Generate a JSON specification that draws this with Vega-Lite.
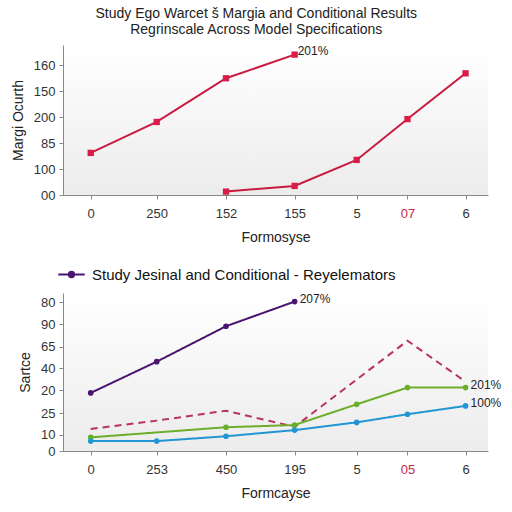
{
  "$schema": "https://vega.github.io/schema/vega-lite/v6.json",
  "padding": {"left": 11, "top": 6, "right": 6, "bottom": 4},
  "background": "white",
  "title": {
    "text": ["Study Ego Warcet š Margia and Conditional Results", "Regrinscale Across Model Specifications"],
    "anchor": "middle",
    "fontSize": 14,
    "fontWeight": "normal",
    "color": "#222",
    "lineHeight": 16,
    "offset": 8
  },
  "datasets": {
    "top": [
      {"series": "A", "x": 0, "y": 1.62},
      {"series": "A", "x": 1, "y": 2.81},
      {"series": "A", "x": 2.05, "y": 4.49},
      {"series": "A", "x": 3.09, "y": 5.4, "label": "201%"},
      {"series": "B", "x": 2.05, "y": 0.13},
      {"series": "B", "x": 3.09, "y": 0.35},
      {"series": "B", "x": 4.03, "y": 1.35},
      {"series": "B", "x": 4.8, "y": 2.92},
      {"series": "B", "x": 5.68, "y": 4.68}
    ],
    "bottom": [
      {"series": "Study Jesinal and Conditional - Reyelemators", "x": 0, "y": 2.64},
      {"series": "Study Jesinal and Conditional - Reyelemators", "x": 1, "y": 4.06},
      {"series": "Study Jesinal and Conditional - Reyelemators", "x": 2.05, "y": 5.67},
      {"series": "Study Jesinal and Conditional - Reyelemators", "x": 3.09, "y": 6.79, "label": "207%"},
      {"series": "Dashed", "x": 0, "y": 1.0},
      {"series": "Dashed", "x": 1, "y": 1.38},
      {"series": "Dashed", "x": 2.05, "y": 1.83},
      {"series": "Dashed", "x": 3.09, "y": 1.1},
      {"series": "Dashed", "x": 4.8, "y": 5.01},
      {"series": "Dashed", "x": 5.68, "y": 3.15},
      {"series": "Green", "x": 0, "y": 0.62},
      {"series": "Green", "x": 2.05, "y": 1.08},
      {"series": "Green", "x": 3.09, "y": 1.18},
      {"series": "Green", "x": 4.03, "y": 2.12},
      {"series": "Green", "x": 4.8, "y": 2.88},
      {"series": "Green", "x": 5.68, "y": 2.88, "label": "201%"},
      {"series": "Blue", "x": 0, "y": 0.45},
      {"series": "Blue", "x": 1, "y": 0.45},
      {"series": "Blue", "x": 2.05, "y": 0.67},
      {"series": "Blue", "x": 3.09, "y": 0.95},
      {"series": "Blue", "x": 4.03, "y": 1.3},
      {"series": "Blue", "x": 4.8, "y": 1.67},
      {"series": "Blue", "x": 5.68, "y": 2.05, "label": "100%"}
    ]
  },
  "spacing": 16,
  "resolve": {"legend": {"color": "independent"}, "scale": {"color": "independent"}},
  "vconcat": [
    {
      "width": 425,
      "height": 150,
      "data": {"name": "top"},
      "encoding": {
        "x": {
          "field": "x", "type": "quantitative",
          "scale": {"domain": [-0.42, 6.02], "nice": false, "zero": false},
          "axis": {
            "title": "Formosyse",
            "values": [0, 1, 2.05, 3.09, 4.03, 4.8, 5.68],
            "labelExpr": "['0','250','152','155','5','07','6'][indexof([0,1,2.05,3.09,4.03,4.8,5.68], datum.value)]",
            "labelColor": {"condition": {"test": "datum.value == 4.8", "value": "#c42a48"}, "value": "#333"}
          }
        },
        "y": {
          "field": "y", "type": "quantitative",
          "scale": {"domain": [0, 5.77], "nice": false},
          "axis": {
            "title": "Margi Ocurth",
            "values": [0, 1, 2, 3, 4, 5],
            "labelExpr": "['00','100','85','200','150','160'][datum.value]"
          }
        },
        "detail": {"field": "series"}
      },
      "layer": [
        {"mark": {"type": "line", "color": "#c91a40", "strokeWidth": 2}},
        {"mark": {"type": "square", "color": "#d91c48", "filled": true, "size": 40, "opacity": 1}},
        {
          "transform": [{"filter": "datum.label != null"}],
          "mark": {"type": "text", "align": "left", "dx": 3, "dy": -4, "fontSize": 12, "color": "#222"},
          "encoding": {"text": {"field": "label"}}
        }
      ]
    },
    {
      "width": 425,
      "height": 158,
      "data": {"name": "bottom"},
      "encoding": {
        "x": {
          "field": "x", "type": "quantitative",
          "scale": {"domain": [-0.42, 6.02], "nice": false, "zero": false},
          "axis": {
            "title": "Formcayse",
            "values": [0, 1, 2.05, 3.09, 4.03, 4.8, 5.68],
            "labelExpr": "['0','253','450','195','5','05','6'][indexof([0,1,2.05,3.09,4.03,4.8,5.68], datum.value)]",
            "labelColor": {"condition": {"test": "datum.value == 4.8", "value": "#c42a48"}, "value": "#333"}
          }
        },
        "y": {
          "field": "y", "type": "quantitative",
          "scale": {"domain": [0, 7.18], "nice": false},
          "axis": {
            "title": "Sartce",
            "values": [0, 0.73, 1.72, 2.77, 3.75, 4.74, 5.77, 6.77],
            "labelExpr": "['0','10','25','20','40','65','90','80'][indexof([0,0.73,1.72,2.77,3.75,4.74,5.77,6.77], datum.value)]"
          }
        },
        "color": {
          "field": "series", "type": "nominal",
          "scale": {
            "domain": ["Study Jesinal and Conditional - Reyelemators", "Dashed", "Green", "Blue"],
            "range": ["#4a1470", "#b8345a", "#6cae2c", "#2196d3"]
          },
          "legend": {
            "values": ["Study Jesinal and Conditional - Reyelemators"],
            "title": null,
            "orient": "none",
            "legendX": -6,
            "legendY": -33,
            "labelFontSize": 15,
            "labelColor": "#111",
            "labelLimit": 500,
            "symbolType": "M-1,0L1,0M-0.2,0a0.2,0.2 0 1,0 0.4,0a0.2,0.2 0 1,0 -0.4,0",
            "symbolSize": 700,
            "symbolStrokeWidth": 2,
            "symbolFillColor": "#4a1470",
            "symbolStrokeColor": "#4a1470",
            "labelOffset": 6
          }
        }
      },
      "layer": [
        {
          "mark": {"type": "line", "strokeWidth": 2},
          "encoding": {
            "strokeDash": {
              "field": "series", "type": "nominal",
              "scale": {
                "domain": ["Study Jesinal and Conditional - Reyelemators", "Dashed", "Green", "Blue"],
                "range": [[1, 0], [7, 5], [1, 0], [1, 0]]
              },
              "legend": null
            }
          }
        },
        {
          "transform": [{"filter": "datum.series != 'Dashed'"}],
          "mark": {"type": "circle", "size": 32, "opacity": 1}
        },
        {
          "transform": [{"filter": "datum.label != null"}],
          "mark": {"type": "text", "align": "left", "dx": 5, "dy": -3, "fontSize": 12, "color": "#222"},
          "encoding": {"text": {"field": "label"}, "color": {"value": "#222"}}
        }
      ]
    }
  ],
  "config": {
    "font": "Liberation Sans",
    "view": {
      "stroke": null,
      "fill": {
        "gradient": "linear", "x1": 0, "y1": 0, "x2": 0, "y2": 1,
        "stops": [{"offset": 0, "color": "#ffffff"}, {"offset": 1, "color": "#ececec"}]
      }
    },
    "axis": {
      "grid": false,
      "domainColor": "#888",
      "tickColor": "#888",
      "tickSize": 4,
      "labelFontSize": 13,
      "labelColor": "#333",
      "titleFontSize": 14,
      "titleFontWeight": "normal",
      "titleColor": "#222"
    },
    "axisX": {"labelPadding": 8, "titlePadding": 10},
    "axisY": {"labelPadding": 4, "titlePadding": 8}
  }
}
